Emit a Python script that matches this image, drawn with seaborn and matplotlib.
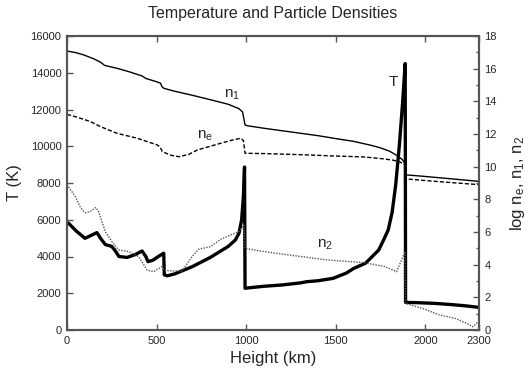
import matplotlib
matplotlib.use("Agg")
import matplotlib.pyplot as plt
import seaborn as sns
from matplotlib.ticker import MultipleLocator

# temperature (K) vs height (km)
t_height = [0, 10, 50, 100, 135, 167, 190, 214, 250, 270, 290, 335, 380, 419, 440, 452,
            480, 510, 540, 543, 560, 600, 650, 700, 750, 800, 850, 900, 940, 960, 975,
            985, 991, 994, 1010, 1100, 1200, 1300, 1340, 1400, 1485, 1560, 1600, 1666,
            1740, 1765, 1793, 1815, 1835, 1855, 1873, 1888, 1890, 1950, 2050, 2150, 2230,
            2300]
t_kelvin = [5850, 5800, 5400, 4990, 5150, 5300, 4950, 4650, 4550, 4300, 4000, 3950, 4100,
            4300, 4000, 3720, 3800, 4000, 4180, 3000, 2950, 3050, 3250, 3450, 3700, 3950,
            4250, 4550, 4900, 5260, 6000, 7300, 8870, 2270, 2290, 2380, 2450, 2560, 2630,
            2680, 2810, 3100, 3350, 3630, 4350, 4850, 5440, 6400, 7900, 10000, 12300,
            14500, 1500, 1490, 1450, 1380, 1310, 1230]

# log n1
n1_height = [0, 50, 94, 150, 187, 210, 280, 350, 420, 440, 500, 522, 530, 540, 600, 700,
             800, 900, 960, 980, 988, 994, 1010, 1100, 1200, 1300, 1400, 1500, 1600, 1700,
             1750, 1800, 1840, 1870, 1888, 1890, 2000, 2100, 2200, 2300]
n1_log = [17.08, 16.98, 16.84, 16.6, 16.4, 16.2, 16.02, 15.8, 15.55, 15.4, 15.2, 15.11,
          14.9, 14.8, 14.62, 14.37, 14.1, 13.82, 13.55, 13.35, 12.9, 12.55, 12.5, 12.35,
          12.2, 12.05, 11.9, 11.72, 11.55, 11.3, 11.15, 10.95, 10.7, 10.45, 10.2, 9.5,
          9.4, 9.3, 9.2, 9.1]

# log ne
ne_height = [0, 50, 131, 187, 280, 392, 504, 520, 532, 580, 625, 680, 727, 800, 857, 920,
             970, 985, 994, 1100, 1200, 1341, 1500, 1650, 1750, 1820, 1860, 1888, 1890,
             2000, 2150, 2300]
ne_log = [13.2, 13.05, 12.76, 12.45, 12.04, 11.74, 11.33, 11.2, 10.92, 10.7, 10.61, 10.75,
          11.02, 11.25, 11.43, 11.62, 11.74, 11.6, 10.82, 10.8, 10.77, 10.72, 10.65, 10.6,
          10.5, 10.4, 10.28, 10.1, 9.25, 9.15, 9.02, 8.9]

# log n2
n2_height = [0, 47, 75, 102, 130, 160, 175, 214, 251, 288, 344, 400, 447, 484, 530, 545,
             600, 642, 698, 735, 801, 857, 920, 960, 988, 994, 1100, 1200, 1340, 1450,
             1660, 1775, 1840, 1887, 1890, 1990, 2080, 2165, 2231, 2265, 2300]
n2_log = [8.9, 8.16, 7.5, 7.18, 7.25, 7.5, 7.3, 6.02, 5.41, 4.9, 4.8, 4.49, 3.67, 3.57,
          3.88, 3.65, 3.61, 3.61, 4.49, 4.95, 5.1, 5.55, 5.85, 6.02, 6.43, 5.0, 4.8, 4.65,
          4.45, 4.29, 4.12, 3.88, 3.57, 4.8, 1.63, 1.3, 0.92, 0.72, 0.41, 0.2, 0.55]

x_ticks = [0, 500, 1000, 1500, 2000, 2300]

sns.set_style("ticks")
plt.rcParams['font.family'] = ['Liberation Sans', 'DejaVu Sans']
plt.rcParams['mathtext.fontset'] = 'custom'
plt.rcParams['mathtext.rm'] = 'Liberation Sans'
plt.rcParams['mathtext.it'] = 'Liberation Sans'

fig = plt.figure(figsize=(5.32, 3.69), dpi=100)
ax = fig.add_axes([67 / 532, 39 / 369, 412 / 532, 294 / 369])
ax2 = ax.twinx()

sns.lineplot(x=t_height, y=t_kelvin, ax=ax, color='black', linewidth=2.4,
             estimator=None, sort=False)
sns.lineplot(x=n1_height, y=n1_log, ax=ax2, color='black', linewidth=1.0,
             estimator=None, sort=False)
sns.lineplot(x=ne_height, y=ne_log, ax=ax2, color='black', linewidth=1.0,
             linestyle=(0, (3, 1.5)), estimator=None, sort=False)
sns.lineplot(x=n2_height, y=n2_log, ax=ax2, color='#555555', linewidth=1.0,
             linestyle=(0, (1, 1)), estimator=None, sort=False)

ax.set_xlim(0, 2300)
ax.set_ylim(0, 16000)
ax2.set_ylim(0, 18)
ax.set_xticks(x_ticks)
ax.yaxis.set_major_locator(MultipleLocator(2000))
ax2.yaxis.set_major_locator(MultipleLocator(2))
ax2.yaxis.set_minor_locator(MultipleLocator(1))

for a in (ax, ax2):
    for sp in a.spines.values():
        sp.set_visible(True)
        sp.set_color('#555555')
        sp.set_linewidth(1.5)

ax.tick_params(axis='both', which='major', direction='in', length=4, width=1,
               color='#555555', labelsize=8, pad=4, top=True)
ax2.tick_params(axis='y', which='major', direction='in', length=4, width=1,
                color='#555555', labelsize=8, pad=4)
ax2.tick_params(axis='y', which='minor', direction='in', length=2, width=1,
                color='#555555')

ax.set_title('Temperature and Particle Densities', fontsize=11.5, pad=13)
ax.set_xlabel('Height (km)', fontsize=12, labelpad=4)
ax.set_ylabel('T (K)', fontsize=12, labelpad=6)
ax2.set_ylabel(r'log n$_\mathrm{e}$, n$_1$, n$_2$', fontsize=12, labelpad=8)

ax2.text(875, 14.2, r'n$_1$', fontsize=11)
ax2.text(725, 11.7, r'n$_\mathrm{e}$', fontsize=11)
ax2.text(1395, 5.05, r'n$_2$', fontsize=11)
ax2.text(1795, 14.95, 'T', fontsize=11)

fig.savefig('out.png', dpi=100)
